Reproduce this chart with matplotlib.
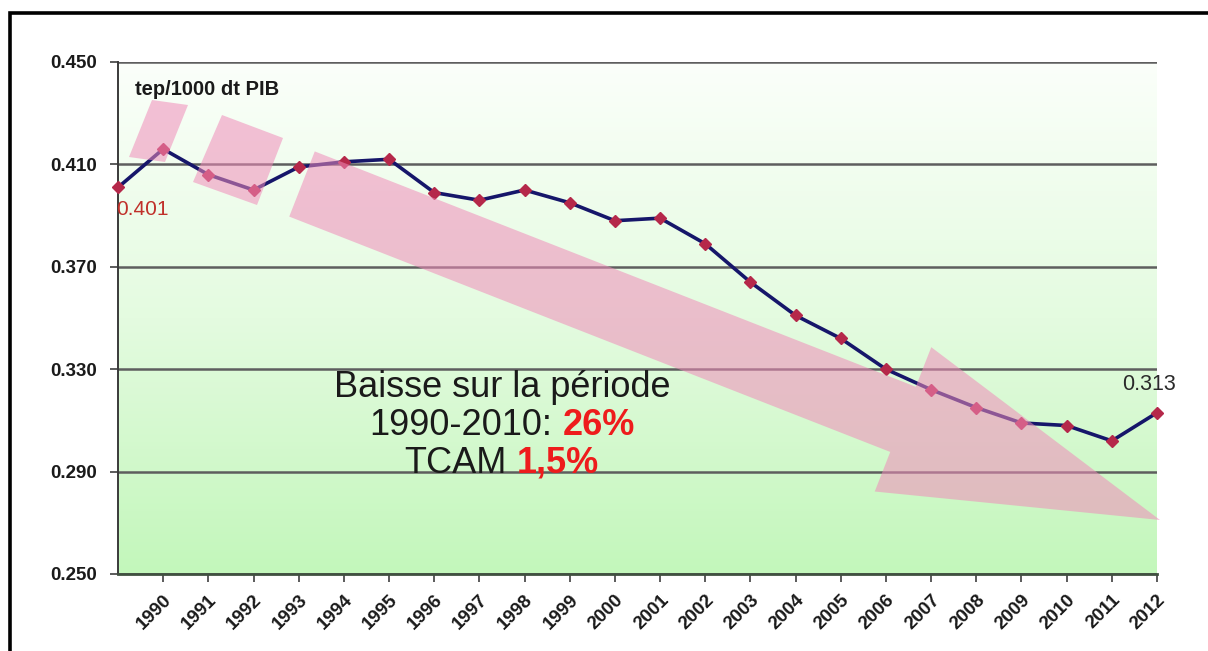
import numpy as np
import matplotlib
matplotlib.use("Agg")
import matplotlib.pyplot as plt
from matplotlib.colors import LinearSegmentedColormap
from matplotlib.patches import FancyArrow, Polygon, Rectangle

plt.rcParams['font.family'] = ['Liberation Sans', 'DejaVu Sans']

# Energy intensity (tep / 1000 dt PIB)
positions = list(range(24))
intensity = [0.401, 0.416, 0.406, 0.400, 0.409, 0.411, 0.412, 0.399, 0.396,
             0.400, 0.395, 0.388, 0.389, 0.379, 0.364, 0.351, 0.342, 0.330,
             0.322, 0.315, 0.309, 0.308, 0.302, 0.313]
year_positions = list(range(1, 24))
year_labels = [str(y) for y in range(1990, 2013)]
y_ticks = [0.250, 0.290, 0.330, 0.370, 0.410, 0.450]

W, H = 1208, 651
fig = plt.figure(figsize=(W / 100, H / 100), dpi=100)
fig.patch.set_facecolor('white')
ax = fig.add_axes([118 / W, 1 - 574 / H, (1157 - 118) / W, (574 - 62) / H])

ax.set_xlim(0, 23)
ax.set_ylim(0.25, 0.45)

# white-to-green vertical gradient as plot background
grad_cmap = LinearSegmentedColormap.from_list('bg', ['#c3f7bb', '#e4fbe0', '#fbfffa'])
grad = np.linspace(0, 1, 256).reshape(-1, 1)
ax.imshow(grad, extent=[0, 23, 0.25, 0.45], origin='lower', aspect='auto',
          cmap=grad_cmap, zorder=0, interpolation='bilinear')

# horizontal gridlines
ax.set_yticks(y_ticks)
ax.set_yticklabels([f"{v:.3f}" for v in y_ticks])
ax.grid(axis='y', color='#5e5e5e', lw=1.8)
ax.grid(axis='x', visible=False)

ax.set_xticks(year_positions)
ax.set_xticklabels(year_labels, rotation=45, ha='right', va='top',
                   rotation_mode='anchor')

for lab in ax.get_yticklabels():
    lab.set_fontweight('bold')
    lab.set_fontsize(13.5)
    lab.set_color('#1a1a1a')
for lab in ax.get_xticklabels():
    lab.set_fontweight('bold')
    lab.set_fontsize(13.5)
    lab.set_color('#1a1a1a')

ax.tick_params(axis='y', direction='out', length=5.8, width=1.2,
               color='#404040', pad=9)
ax.tick_params(axis='x', direction='out', length=5.5, width=1.2,
               color='#404040', pad=7)

for s in ['top', 'right']:
    ax.spines[s].set_visible(False)
ax.spines['left'].set_color('#3a3a3a')
ax.spines['left'].set_linewidth(1.4)
ax.spines['bottom'].set_color('#405040')
ax.spines['bottom'].set_linewidth(2.0)

# series line
ax.plot(positions, intensity, color='#16166a', lw=2.6, marker='D',
        markersize=6, markerfacecolor='#b5284a', markeredgecolor='#b5284a',
        zorder=3, clip_on=False)

# translucent pink trend shapes (canvas pixel coordinates)
def to_in(x, y):
    return (x / 100, (H - y) / 100)

pink = dict(facecolor='#f08cba', edgecolor='none', alpha=0.55, zorder=4,
            transform=fig.dpi_scale_trans)
ax.add_patch(Polygon([to_in(152, 100), to_in(188, 105), to_in(165, 162),
                      to_in(129, 157)], closed=True, **pink))
ax.add_patch(Polygon([to_in(222, 115), to_in(283, 138), to_in(257, 205),
                      to_in(193, 182)], closed=True, **pink))
tx, ty = to_in(302, 184)
hx, hy = to_in(1160, 520)
arrow = FancyArrow(tx, ty, hx - tx, hy - ty, width=0.70, head_width=1.55,
                   head_length=2.76, length_includes_head=True, **pink)
arrow.set_clip_on(False)
ax.add_patch(arrow)

# unit label
ax.text((135 - 118) / 1039, (574 - 95) / 512, 'tep/1000 dt PIB',
        transform=ax.transAxes, fontsize=14.5, fontweight='bold',
        color='#1a1a1a', ha='left', va='baseline', zorder=6)

# end-point value labels
ax.annotate(f"{intensity[0]:.3f}", xy=(positions[0], intensity[0]),
            xytext=(-1, -9), textcoords='offset points', ha='left', va='top',
            fontsize=15, color='#c0302a', zorder=6, annotation_clip=False)
ax.annotate(f"{intensity[-1]:.3f}", xy=(positions[-1], intensity[-1]),
            xytext=(-6, 13), textcoords='offset points', ha='center',
            va='bottom', fontsize=15.5, color='#2a2a2a', zorder=6,
            annotation_clip=False)

# summary block with mixed colours
fs = 26
lines = [
    [("Baisse sur la période", '#1a1a1a', 'normal')],
    [("1990-2010:", '#1a1a1a', 'normal'), ("26%", '#ee1c1c', 'bold')],
    [("TCAM", '#1a1a1a', 'normal'), ("1,5%", '#ee1c1c', 'bold')],
]
baselines = [(574 - 397) / 512, (574 - 435) / 512, (574 - 473) / 512]
x_center = (502 - 118) / 1039
gap_px = 0.28 * fs * 100 / 72

created = []
for pieces, yb in zip(lines, baselines):
    row = []
    for s, c, w in pieces:
        t = ax.text(0, yb, s, transform=ax.transAxes, fontsize=fs, color=c,
                    fontweight=w, ha='left', va='baseline', zorder=6)
        row.append(t)
    created.append((row, yb))

fig.canvas.draw()
renderer = fig.canvas.get_renderer()
for row, yb in created:
    widths = [t.get_window_extent(renderer).width for t in row]
    total = sum(widths) + gap_px * (len(row) - 1)
    cx_disp = ax.transAxes.transform((x_center, yb))[0]
    x_disp = cx_disp - total / 2
    for t, w in zip(row, widths):
        xa = ax.transAxes.inverted().transform((x_disp, 0))[0]
        t.set_x(xa)
        x_disp += w + gap_px

# outer frame
fig.add_artist(Rectangle((10 / W, -0.2), 1.2, (H - 13) / H + 0.2,
                         transform=fig.transFigure, fill=False,
                         edgecolor='black', lw=2.6, clip_on=False))

fig.savefig('out.png', dpi=100, facecolor='white')
